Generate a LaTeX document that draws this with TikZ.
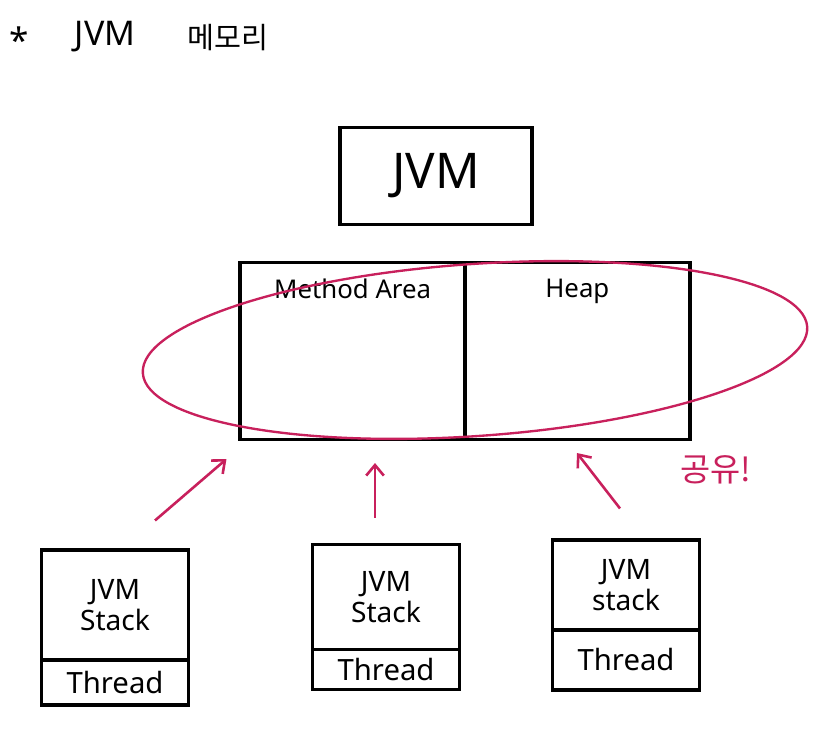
\documentclass[tikz,border=0pt]{standalone}
\usepackage{fontspec}
\setmainfont{Noto Sans}
\newfontfamily\kor{Noto Sans CJK KR}
\usetikzlibrary{positioning,arrows.meta}

\definecolor{pen}{RGB}{200,32,92}

\tikzset{
  box/.style={draw, line width=2.6pt, rectangle, inner sep=0pt},
  stackbox/.style={box, minimum width=4.4cm, align=center, font=\fontsize{24}{27}\selectfont},
  threadbox/.style={box, minimum width=4.4cm, font=\fontsize{25}{27}\selectfont},
  share/.style={pen, line width=2.2pt, -{Straight Barb[length=9pt,width=15pt]}},
}

\begin{document}
\begin{tikzpicture}[x=0.03cm, y=-0.03cm]
\useasboundingbox[fill=white] (0,0) rectangle (820,728);

% title
\node[font=\fontsize{30}{32}\selectfont] (star) at (19,40) {*};
\node[font=\fontsize{29}{32}\selectfont] (title) at (105,37) {JVM};
\node[font=\kor\fontsize{25}{28}\selectfont] (titlekr) at (228,38) {메모리};

\node[box, minimum width=5.76cm, minimum height=2.91cm, font=\fontsize{42}{46}\selectfont] (jvm) at (436,176) {JVM};

\node[box, minimum width=13.5cm, minimum height=5.31cm,
  label={[below=12pt, xshift=-3.37cm, font=\fontsize{22}{24}\selectfont]north:Method Area},
  label={[below=12pt, xshift=3.37cm, font=\fontsize{22}{24}\selectfont]north:Heap}] (memory) at (465,351) {};
\draw[line width=2.6pt] (memory.north) -- (memory.south);

% shared area
\draw[pen, line width=2pt, rotate around={4:(475,350)}] (475,350) ellipse [x radius=333, y radius=86];
\node[pen, font=\kor\fontsize{28}{30}\selectfont] (shared) at (716,470) {공유!};

% threads
\node[stackbox, minimum height=3.3cm] (stackA) at (115,605) {JVM\\Stack};
\node[threadbox, minimum height=1.35cm, below=-2.6pt of stackA] (threadA) {Thread};
\node[stackbox, minimum height=3.15cm] (stackB) at (386,597) {JVM\\Stack};
\node[threadbox, minimum height=1.2cm, below=-2.6pt of stackB] (threadB) {Thread};
\node[stackbox, minimum height=2.7cm] (stackC) at (626,585) {JVM\\stack};
\node[threadbox, minimum height=1.8cm, below=-2.6pt of stackC] (threadC) {Thread};

\draw[share] ([shift={(40,-28)}]stackA.north) -- ([shift={(-12,18)}]memory.south west);
\draw[share] ([shift={(-11,-25)}]stackB.north) -- ([shift={(-90,22)}]memory.south);
\draw[share] ([shift={(-6,-30)}]stackC.north) -- ([shift={(112,12)}]memory.south);
\end{tikzpicture}
\end{document}
